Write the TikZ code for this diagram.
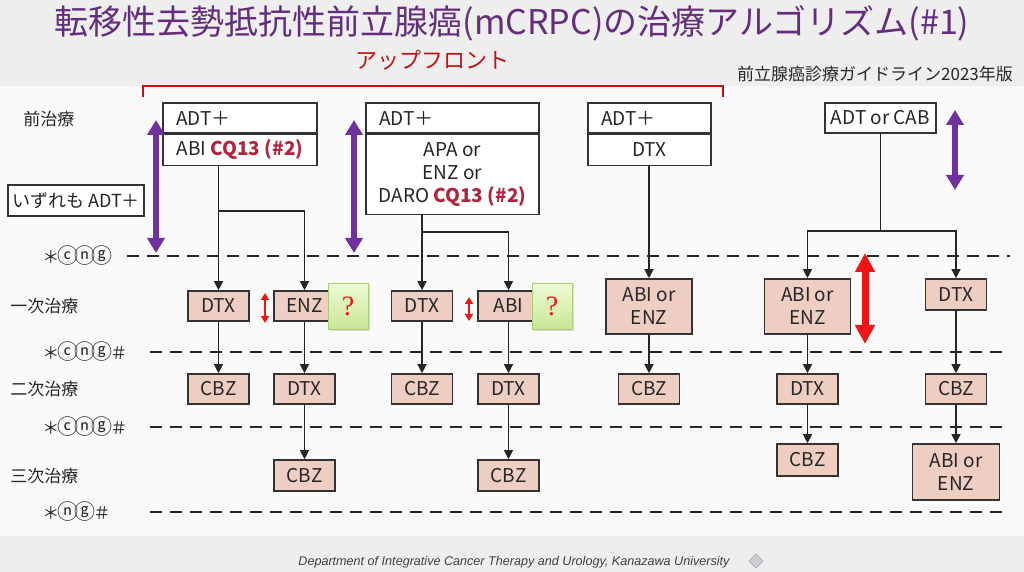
\documentclass[tikz,border=0pt]{standalone}
\usepackage{fontspec}
\setmainfont{Noto Sans CJK JP}
\newfontfamily\footfont{Liberation Sans}
\newfontfamily\qfont{Liberation Serif}
\usetikzlibrary{arrows.meta, shadows}
\definecolor{titlepurple}{RGB}{100,45,125}
\definecolor{upred}{RGB}{192,20,20}
\definecolor{cqred}{RGB}{180,35,60}
\definecolor{drugfill}{RGB}{238,205,195}
\definecolor{arrowpurple}{RGB}{112,48,160}
\definecolor{arrowred}{RGB}{240,20,20}
\definecolor{qtop}{RGB}{238,250,215}
\definecolor{qbot}{RGB}{200,232,150}
\definecolor{qedge}{RGB}{170,205,120}
\definecolor{bgouter}{RGB}{238,238,238}
\definecolor{bginner}{RGB}{250,250,250}
\newcommand{\cq}{\textcolor{cqred}{\bfseries CQ13 (\#2)}}
\newcommand{\circlet}[1]{{\fontsize{10.5}{10}\selectfont\kern-1pt#1\kern-1pt}}
\newcommand{\circcng}{\circlet{ⓒ}\circlet{ⓝ}\circlet{ⓖ}}
\newcommand{\circng}{\circlet{ⓝ}\circlet{ⓖ}}

\begin{document}
\begin{tikzpicture}[
		x=0.5pt, y=-0.5pt,
		every node/.style={text=black!85},
		topbox/.style={draw=black!80, fill=white, line width=0.6pt, inner sep=0pt, align=center, font=\fontsize{9.5}{11.5}\selectfont},
		headbox/.style={topbox, text width=#1, inner xsep=6.5pt, align=left, minimum height=15pt},
		bodybox/.style={topbox, minimum width=#1},
		drug/.style={draw=black!80, fill=drugfill, line width=0.8pt, minimum width=#1, minimum height=15pt, inner sep=0pt, align=center, font=\fontsize{9.5}{11.5}\selectfont},
		drug/.default=30.5pt,
		qbox/.style={draw=qedge, top color=qtop, bottom color=qbot, minimum width=20pt, minimum height=23pt, inner sep=0pt, text=arrowred, font=\qfont\fontsize{14}{14}\selectfont, drop shadow={opacity=0.25, shadow xshift=0.8pt, shadow yshift=-0.8pt}},
		link/.style={draw=black!85, line width=0.6pt, -{Triangle[width=4.5pt,length=4.5pt]}},
		rowline/.style={draw=black!85, line width=1.2pt, dash pattern=on 6pt off 4pt},
		rowlbl/.style={anchor=west, inner sep=0pt, font=\fontsize{8.5}{10}\selectfont},
		seplbl/.style={anchor=west, inner sep=0pt, font=\fontsize{8.5}{10}\selectfont},
		bigpurple/.style={arrowpurple, line width=3pt, {Triangle[width=8.5pt,length=7.5pt]}-{Triangle[width=8.5pt,length=7.5pt]}},
		bigred/.style={arrowred, line width=3.5pt, {Triangle[width=9.5pt,length=9.5pt]}-{Triangle[width=9.5pt,length=9.5pt]}},
		smallred/.style={arrowred, line width=1pt, {Triangle[width=4pt,length=3.5pt]}-{Triangle[width=4pt,length=3.5pt]}}
		]
		\useasboundingbox (0,0) rectangle (1024,572);
		\fill[bgouter] (0,0) rectangle (1024,572);
		\fill[bginner] (0,86) rectangle (1024,536);
		
		% Title and header
		\node[font=\fontsize{17}{20}\selectfont, text=titlepurple] (title) at (512,23) {転移性去勢抵抗性前立腺癌(mCRPC)の治療アルゴリズム(\#1)};
		\node[font=\fontsize{11}{13}\selectfont, text=upred] (upfront) at (432,60) {アップフロント};
		\draw[upred, line width=1pt] (143,97) -- (143,86) -- (723,86) -- (723,97);
		\node[font=\fontsize{8.5}{10}\selectfont] (guide) at (875,74) {前立腺癌診療ガイドライン2023年版};
		
		% Row labels
		\node[rowlbl] (lpre) at (23,119) {前治療};
		\node[rowlbl] (lfirst) at (10,306) {一次治療};
		\node[rowlbl] (lsecond) at (10,389) {二次治療};
		\node[rowlbl] (lthird) at (10,476) {三次治療};
		\node[topbox, minimum width=68pt, minimum height=15.5pt, font=\fontsize{9}{11}\selectfont] (anyadt) at (76,200.5) {いずれも ADT＋};
		
		% Separators
		\node[seplbl] (s1) at (42,256) {＊\circcng};
		\node[seplbl] (s2) at (42,352) {＊\circcng＃};
		\node[seplbl] (s3) at (42,427) {＊\circcng＃};
		\node[seplbl] (s4) at (42,512) {＊\circng＃};
		\draw[rowline] (127,256) -- (1010,256);
		\draw[rowline] (150,352) -- (1010,352);
		\draw[rowline] (150,427) -- (1010,427);
		\draw[rowline] (150,512) -- (1010,512);
		
		% Pre-treatment boxes
		\node[headbox=64pt] (pre1) at (240,118) {ADT＋};
		\node[bodybox=77pt, minimum height=15.5pt, anchor=north] (pre1b) at (pre1.south) {ABI \cq};
		\node[headbox=73.5pt] (pre2) at (452.5,118) {ADT＋};
		\node[bodybox=86.5pt, minimum height=40pt, anchor=north] (pre2b) at (pre2.south) {APA or\\ENZ or\\DARO \cq};
		\node[headbox=48.5pt] (pre3) at (649.5,118) {ADT＋};
		\node[bodybox=61.5pt, minimum height=15.5pt, anchor=north] (pre3b) at (pre3.south) {DTX};
		\node[topbox, minimum width=55.5pt, minimum height=15pt] (cab) at (880.5,118) {ADT or CAB};
		
		% First line
		\node[drug] (dtxA) at (218.5,306) {DTX};
		\node[drug] (enzA) at (304.5,306) {ENZ};
		\node[qbox] (qA) at (348,306) {?};
		\node[drug] (dtxB) at (422,306) {DTX};
		\node[drug] (abiB) at (508.5,306) {ABI};
		\node[qbox] (qB) at (552,306) {?};
		\node[drug=43pt, minimum height=27.5pt] (abienz3) at (649,306.5) {ABI or\\ENZ};
		\node[drug=43pt, minimum height=27.5pt] (abienz4) at (807.5,306.5) {ABI or\\ENZ};
		\node[drug, minimum height=15.5pt] (dtx4b) at (956,294.5) {DTX};
		
		% Second line
		\node[drug] (cbzA) at (218.5,389) {CBZ};
		\node[drug] (dtxA2) at (304.5,389) {DTX};
		\node[drug] (cbzB) at (422,389) {CBZ};
		\node[drug] (dtxB2) at (508.5,389) {DTX};
		\node[drug] (cbz3) at (649,389) {CBZ};
		\node[drug] (dtx4) at (807.5,389) {DTX};
		\node[drug] (cbz4b) at (956,389) {CBZ};
		
		% Third line
		\node[drug, minimum height=15.5pt] (cbzA3) at (304.5,475.5) {CBZ};
		\node[drug, minimum height=15.5pt] (cbzB3) at (508.5,475.5) {CBZ};
		\node[drug, minimum height=16pt] (cbz4) at (807.5,460) {CBZ};
		\node[drug=43.5pt, minimum height=28pt] (abienz4b) at (956,472) {ABI or\\ENZ};
		
		% Connectors
		\coordinate (fork1) at (218.5,211);
		\coordinate (fork2) at (422,232);
		\coordinate (fork4) at (880.5,231);
		\draw[link] (pre1b.south -| dtxA.north) -- (dtxA.north);
		\draw[link] (fork1) -| (enzA.north);
		\draw[link] (pre2b.south -| dtxB.north) -- (dtxB.north);
		\draw[link] (fork2) -| (abiB.north);
		\draw[link] (pre3b.south -| abienz3.north) -- (abienz3.north);
		\draw[line width=0.6pt, black!85] (cab.south) -- (fork4);
		\draw[link] (fork4) -| (abienz4.north);
		\draw[link] (fork4) -| (dtx4b.north);
		\draw[link] (dtxA.south) -- (cbzA.north);
		\draw[link] (enzA.south) -- (dtxA2.north);
		\draw[link] (dtxA2.south) -- (cbzA3.north);
		\draw[link] (dtxB.south) -- (cbzB.north);
		\draw[link] (abiB.south) -- (dtxB2.north);
		\draw[link] (dtxB2.south) -- (cbzB3.north);
		\draw[link] (abienz3.south) -- (cbz3.north);
		\draw[link] (abienz4.south) -- (dtx4.north);
		\draw[link] (dtx4.south) -- (cbz4.north);
		\draw[link] (dtx4b.south) -- (cbz4b.north);
		\draw[link] (cbz4b.south) -- (abienz4b.north);
		
		% Double arrows
		\draw[bigpurple] (156,120) -- (156,253);
		\draw[bigpurple] (354,120) -- (354,253);
		\draw[bigpurple] (955,110) -- (955,190);
		\draw[bigred] (865,253) -- (865,344);
		\draw[smallred] (265,293) -- (265,323);
		\draw[smallred] (469,297) -- (469,321);
		
		% Footer
		\node[font=\footfont\itshape\fontsize{6.3}{7}\selectfont, text=black!75] (foot) at (514,562) {Department of Integrative Cancer Therapy and Urology, Kanazawa University};
		\draw[fill=blue!10!gray!35, draw=gray!60, line width=0.5pt] (756,554) -- (763,561) -- (756,568) -- (749,561) -- cycle;
		
	\end{tikzpicture}
\end{document}
